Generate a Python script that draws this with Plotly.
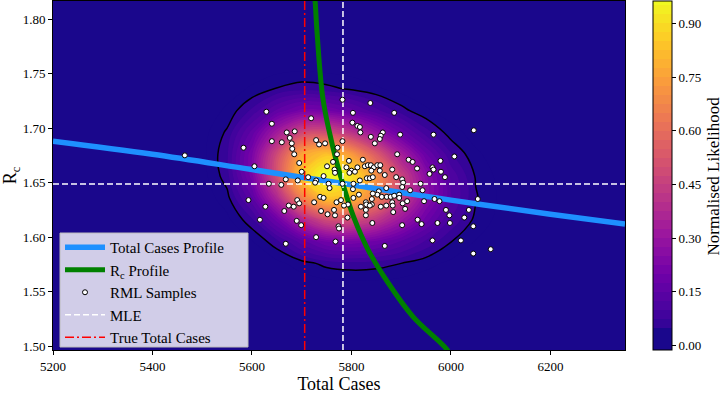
import plotly.graph_objects as go

# ---------------- data ----------------
# likelihood surface (normalised), estimated on a grid
lik_x = [5200, 5450, 5500, 5550, 5600, 5650, 5700, 5750, 5800, 5850, 5900,
         5950, 6000, 6050, 6100, 6150, 6350]
lik_y = [1.49, 1.536, 1.556, 1.576, 1.596, 1.616, 1.636, 1.656, 1.676,
         1.696, 1.716, 1.736, 1.756, 1.776, 1.82]
pad = [0.001] * 17
lik_z = [
    pad,
    pad,
    [0.001, 0.001, 0.001, 0.001, 0.001, 0.003, 0.007, 0.012, 0.014, 0.014, 0.012, 0.008, 0.005, 0.002, 0.001, 0.001, 0.001],
    [0.001, 0.001, 0.001, 0.001, 0.006, 0.017, 0.038, 0.059, 0.066, 0.062, 0.050, 0.033, 0.019, 0.009, 0.004, 0.001, 0.001],
    [0.001, 0.001, 0.001, 0.006, 0.023, 0.067, 0.139, 0.203, 0.216, 0.194, 0.147, 0.095, 0.051, 0.023, 0.009, 0.003, 0.001],
    [0.001, 0.001, 0.003, 0.018, 0.069, 0.186, 0.359, 0.490, 0.497, 0.425, 0.307, 0.188, 0.096, 0.042, 0.016, 0.005, 0.001],
    [0.001, 0.001, 0.008, 0.040, 0.145, 0.366, 0.658, 0.838, 0.809, 0.659, 0.453, 0.264, 0.128, 0.053, 0.019, 0.005, 0.001],
    [0.001, 0.002, 0.014, 0.064, 0.214, 0.503, 0.842, 1.000, 0.919, 0.713, 0.467, 0.260, 0.119, 0.047, 0.016, 0.004, 0.001],
    [0.001, 0.003, 0.016, 0.070, 0.221, 0.484, 0.756, 0.838, 0.733, 0.541, 0.337, 0.179, 0.078, 0.030, 0.010, 0.002, 0.001],
    [0.001, 0.002, 0.014, 0.055, 0.160, 0.326, 0.475, 0.490, 0.408, 0.287, 0.170, 0.086, 0.036, 0.013, 0.004, 0.001, 0.001],
    [0.001, 0.001, 0.008, 0.030, 0.081, 0.155, 0.211, 0.203, 0.161, 0.108, 0.061, 0.029, 0.012, 0.004, 0.001, 0.001, 0.001],
    [0.001, 0.001, 0.003, 0.012, 0.029, 0.052, 0.066, 0.059, 0.045, 0.029, 0.015, 0.007, 0.003, 0.001, 0.001, 0.001, 0.001],
    [0.001, 0.001, 0.001, 0.003, 0.007, 0.012, 0.014, 0.012, 0.009, 0.005, 0.003, 0.001, 0.001, 0.001, 0.001, 0.001, 0.001],
    pad,
    pad,
]
boundary_level = 0.05

# profiles
tc_profile_x = [5200, 5400, 5600, 5800, 6000, 6200, 6350]
tc_profile_y = [1.688, 1.676, 1.662, 1.648, 1.634, 1.621, 1.612]

rc_profile_x = [5724, 5727, 5731, 5743, 5764, 5782, 5804, 5834, 5874, 5924, 5992, 6003]
rc_profile_y = [1.830, 1.816, 1.787, 1.726, 1.680, 1.650, 1.619, 1.588, 1.558, 1.527, 1.497, 1.488]

# RML samples
rml_x = [5782, 5838, 5629, 5803, 5886, 5719, 5640, 5802, 5812, 5817,
         6046, 5670, 5686, 5818, 5863, 5898, 5965, 5676, 5839, 5859,
         5640, 5660, 5680, 5729, 5735, 5747, 5782, 5847, 5857, 5583,
         5681, 5685, 5772, 5771, 5892, 6007, 5915, 5923, 5979, 5695,
         5763, 5795, 5823, 5605, 5751, 5766, 5790, 5800, 5812, 5827,
         5833, 5839, 5845, 5852, 5858, 5857, 5840, 5882, 5932, 5963,
         5965, 5957, 5980, 5988, 5700, 5767, 5796, 5807, 5831, 5837,
         5843, 5867, 5890, 5902, 5904, 5713, 5744, 5729, 5727, 5668,
         5692, 5634, 5659, 5754, 5756, 5782, 5804, 5817, 5939, 5902,
         5918, 5943, 5870, 5855, 5852, 5843, 5861, 5871, 5879, 5886,
         5896, 5896, 5815, 5803, 5737, 5744, 5770, 5779, 5793, 5785,
         5804, 5829, 5841, 5841, 5830, 5819, 5829, 5837, 5859, 5870,
         5882, 5883, 5903, 5912, 5908, 5884, 5593, 5627, 5674, 5684,
         5691, 5695, 5725, 5739, 5752, 5765, 5767, 5829, 5946, 5967,
         5977, 5990, 5997, 6027, 6036, 6054, 5665, 5616, 5690, 5699,
         5792, 5774, 5775, 5842, 5902, 5933, 5941, 5973, 5998, 6045,
         5729, 5768, 5668, 5867, 5963, 6020, 6045, 6080, 5465]
rml_y = [1.726, 1.723, 1.715, 1.714, 1.714, 1.709, 1.704, 1.705, 1.702, 1.701,
         1.698, 1.696, 1.697, 1.696, 1.696, 1.694, 1.694, 1.691, 1.692, 1.693,
         1.688, 1.687, 1.686, 1.689, 1.685, 1.686, 1.688, 1.686, 1.690, 1.682,
         1.681, 1.676, 1.682, 1.676, 1.676, 1.674, 1.671, 1.669, 1.670, 1.668,
         1.669, 1.670, 1.671, 1.665, 1.665, 1.662, 1.664, 1.661, 1.664, 1.665,
         1.666, 1.666, 1.664, 1.666, 1.666, 1.661, 1.661, 1.662, 1.663, 1.664,
         1.662, 1.658, 1.660, 1.655, 1.660, 1.659, 1.659, 1.660, 1.654, 1.654,
         1.655, 1.657, 1.655, 1.653, 1.650, 1.655, 1.656, 1.652, 1.650, 1.653,
         1.652, 1.649, 1.648, 1.649, 1.645, 1.649, 1.649, 1.652, 1.649, 1.646,
         1.643, 1.643, 1.645, 1.642, 1.639, 1.640, 1.637, 1.637, 1.637, 1.638,
         1.639, 1.636, 1.639, 1.644, 1.637, 1.636, 1.632, 1.634, 1.630, 1.629,
         1.636, 1.632, 1.635, 1.630, 1.630, 1.628, 1.625, 1.629, 1.628, 1.629,
         1.632, 1.629, 1.631, 1.633, 1.626, 1.623, 1.634, 1.628, 1.629, 1.628,
         1.634, 1.631, 1.632, 1.624, 1.621, 1.625, 1.620, 1.620, 1.633, 1.635,
         1.633, 1.625, 1.620, 1.618, 1.625, 1.635, 1.624, 1.616, 1.615, 1.611,
         1.618, 1.610, 1.608, 1.613, 1.611, 1.616, 1.612, 1.613, 1.613, 1.610,
         1.600, 1.596, 1.594, 1.592, 1.597, 1.597, 1.585, 1.589, 1.675]

mle_x = 5783
mle_y = 1.6488
true_total_cases = 5706

x_range = [5200, 6350]
y_range = [1.4966, 1.8165]
x_ticks = [5200, 5400, 5600, 5800, 6000, 6200]
y_ticks = [1.50, 1.55, 1.60, 1.65, 1.70, 1.75, 1.80]
cbar_ticks = [0.00, 0.15, 0.30, 0.45, 0.60, 0.75, 0.90]

assert len(rml_x) == len(rml_y)

FONT = "Liberation Serif"
BG = "rgb(26,7,140)"
# plasma palette; the lowest two bands are drawn in the background colour
colorscale = [
    [0.0, BG], [0.055, BG], [0.056, "#2a0593"], [1 / 9, "#46039f"],
    [2 / 9, "#7201a8"], [3 / 9, "#9c179e"], [4 / 9, "#bd3786"],
    [5 / 9, "#d8576b"], [6 / 9, "#ed7953"], [7 / 9, "#fb9f3a"],
    [8 / 9, "#fdca26"], [1.0, "#f0f921"],
]

# layout geometry (pixels of the 721x398 canvas)
W, H = 721, 398
PL, PR, PT, PB = 53, 625, 1, 350          # plot area box
pw, ph = PR - PL, PB - PT


def px_x(p):
    return (p - PL) / pw


def px_y(p):
    return (PB - p) / ph


fig = go.Figure()

fig.add_trace(go.Contour(
    x=lik_x, y=lik_y, z=lik_z,
    colorscale=colorscale,
    contours=dict(start=0, end=0.95, size=0.025, coloring="fill", showlines=False),
    line=dict(width=0, smoothing=1.0),
    showlegend=False, hoverinfo="skip",
    colorbar=dict(
        x=px_x(653), xanchor="left", xpad=0,
        y=0.5, yanchor="middle", len=1, lenmode="fraction", ypad=0,
        thickness=19, outlinewidth=1, outlinecolor="black",
        tickvals=cbar_ticks, tickformat=".2f",
        ticks="outside", ticklen=4, tickcolor="black",
        tickfont=dict(family=FONT, size=13, color="black"),
    ),
))

fig.add_trace(go.Contour(
    x=lik_x, y=lik_y, z=lik_z,
    contours=dict(start=boundary_level, end=boundary_level, size=0.1, coloring="none"),
    line=dict(color="black", width=1.5, smoothing=1.0),
    showscale=False, showlegend=False, hoverinfo="skip",
))

fig.add_trace(go.Scatter(
    x=tc_profile_x, y=tc_profile_y, mode="lines",
    line=dict(color="#1e90ff", width=5.5, shape="spline"),
    name="Total Cases Profile", legendrank=1,
))
fig.add_trace(go.Scatter(
    x=rc_profile_x, y=rc_profile_y, mode="lines",
    line=dict(color="green", width=5, shape="spline"),
    name="R<sub>c</sub> Profile", legendrank=2,
))
fig.add_trace(go.Scatter(
    x=[x_range[0], x_range[1], None, mle_x, mle_x],
    y=[mle_y, mle_y, None, y_range[0], y_range[1]],
    mode="lines", line=dict(color="white", width=1.5, dash="6px,3px"),
    name="MLE", legendrank=4,
))
fig.add_trace(go.Scatter(
    x=[true_total_cases, true_total_cases], y=y_range,
    mode="lines", line=dict(color="red", width=1.5, dash="9px,3px,2px,3px"),
    name="True Total Cases", legendrank=5,
))
fig.add_trace(go.Scatter(
    x=rml_x, y=rml_y, mode="markers",
    marker=dict(color="white", size=5, line=dict(color="black", width=1)),
    name="RML Samples", legendrank=3,
))

axis_common = dict(
    showgrid=False, zeroline=False, showline=True, mirror=True,
    linecolor="black", linewidth=1, ticks="outside", ticklen=4,
    tickcolor="black", tickfont=dict(family=FONT, size=13, color="black"),
    automargin=False,
)

fig.update_layout(
    width=W, height=H,
    margin=dict(l=PL, r=W - PR, t=PT, b=H - PB),
    paper_bgcolor="white", plot_bgcolor=BG,
    xaxis=dict(range=x_range, tickvals=x_ticks,
               title=dict(text="Total Cases", standoff=2,
                          font=dict(family=FONT, size=18, color="black")),
               **axis_common),
    yaxis=dict(range=y_range, tickvals=y_ticks, tickformat=".2f",
               title=dict(text="R<sub>c</sub>", standoff=6,
                          font=dict(family=FONT, size=18, color="black")),
               **axis_common),
    legend=dict(
        x=px_x(60), y=px_y(231), xanchor="left", yanchor="top",
        bgcolor="rgba(0,0,0,0)", borderwidth=0, itemwidth=40,
        font=dict(family=FONT, size=15, color="black"),
    ),
    shapes=[dict(
        type="rect", xref="paper", yref="paper", layer="above",
        x0=px_x(60), x1=px_x(248), y0=px_y(347), y1=px_y(233),
        fillcolor="rgba(255,255,255,0.8)", line=dict(color="#bbbbbb", width=1),
    )],
    showlegend=True,
    annotations=[dict(
        text="Normalised Likelihood", textangle=-90,
        xref="paper", yref="paper", x=px_x(713), y=0.5,
        xanchor="center", yanchor="middle", showarrow=False,
        font=dict(family=FONT, size=17, color="black"),
    )],
)

fig.write_html("out.html", config={"displayModeBar": False},
               post_script="document.body.style.margin='0px';")
